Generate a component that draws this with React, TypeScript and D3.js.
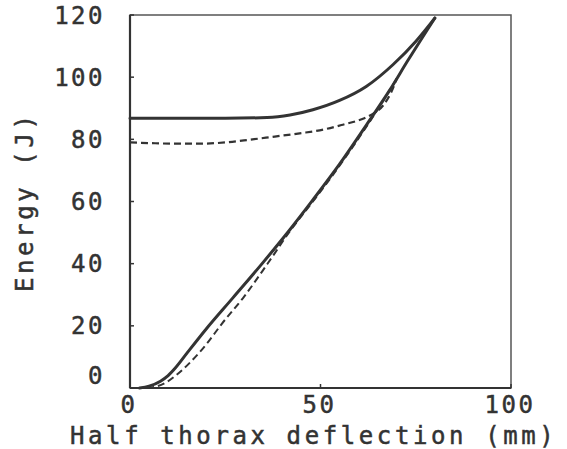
import React from "react";
import * as d3 from "d3";

const xTicks = [0, 50, 100];
const yTicks = [0, 20, 40, 60, 80, 100, 120];

// Solid curve: loading and unloading (x: mm, y: J)
const solidLoad: [number, number][] = [
  [2.5, 0], [5, 0.6], [8, 2.2], [10, 4], [12, 6.6], [15, 11.3], [20, 19],
  [27, 29], [35, 40.5], [42, 51], [48, 60.5], [55, 72], [62, 84.5],
  [68, 95.5], [73, 105.5], [80, 119],
];
const solidUnload: [number, number][] = [
  [0, 86.8], [10, 86.8], [25, 86.8], [36, 87], [42, 87.8], [48, 89.5],
  [55, 92.5], [62, 97], [69, 104], [75, 111.5], [80, 119],
];
// Dashed curve: loading and unloading
const dashLoad: [number, number][] = [
  [4.5, 0], [7, 0.5], [9.5, 1.8], [12, 4], [16, 8.5], [20, 14], [24, 20.5],
  [30, 29.5], [36, 39.8], [42, 50.5], [48, 60], [55, 71.5], [62, 84],
  [66, 91.5], [70, 99.5],
];
const dashUnload: [number, number][] = [
  [0, 79], [5, 78.8], [12, 78.6], [18, 78.6], [25, 79], [31, 79.8],
  [38, 80.9], [45, 82], [51, 83.2], [55.5, 84.6], [61.5, 86.8],
  [63.5, 88], [66.5, 91], [68.5, 95], [70, 99.5],
];

const W = 567;
const H = 449;
const x = d3.scaleLinear().domain([0, 100]).range([130, 511]);
const y = d3.scaleLinear().domain([0, 120]).range([388, 15]);

const line = d3
  .line<[number, number]>()
  .x((d) => x(d[0]))
  .y((d) => y(d[1]))
  .curve(d3.curveMonotoneX);

const ink = "#333";
const font = "'DejaVu Sans Mono', 'Liberation Mono', monospace";
const textStyle = { stroke: ink, strokeWidth: 0.5 };

export default function App() {
  return (
    <svg
      width={W}
      height={H}
      style={{ position: "absolute", left: 0, top: 0, background: "#fff" }}
    >
      {/* frame */}
      <rect
        x={x(0)}
        y={y(120)}
        width={x(100) - x(0)}
        height={y(0) - y(120)}
        fill="none"
        stroke="#555"
        strokeWidth={1.5}
      />
      <line x1={x(0)} x2={x(0)} y1={y(0)} y2={y(120)} stroke={ink} strokeWidth={2.2} />
      <line x1={x(0)} x2={x(100)} y1={y(0)} y2={y(0)} stroke={ink} strokeWidth={2} />

      {/* ticks */}
      {yTicks.map((t) => (
        <line key={"yt" + t} x1={x(0)} x2={x(0) + 4} y1={y(t)} y2={y(t)} stroke={ink} strokeWidth={1.5} />
      ))}
      {xTicks.map((t) => (
        <line key={"xt" + t} x1={x(t)} x2={x(t)} y1={y(0)} y2={y(0) - 4} stroke={ink} strokeWidth={1.5} />
      ))}

      {/* y tick labels */}
      {yTicks.map((t) => (
        <text
          key={"yl" + t}
          x={105}
          y={y(t) + (t === 0 ? -13 : 0)}
          dy="0.36em"
          textAnchor="end"
          fontFamily={font}
          fontSize={24}
          letterSpacing={2.5}
          fill={ink}
          style={textStyle}
        >
          {t}
        </text>
      ))}
      {/* x tick labels */}
      {xTicks.map((t) => (
        <text
          key={"xl" + t}
          x={x(t) - 1}
          y={413}
          textAnchor="middle"
          fontFamily={font}
          fontSize={24}
          letterSpacing={2.5}
          fill={ink}
          style={textStyle}
        >
          {t}
        </text>
      ))}

      {/* axis titles */}
      <text
        x={70}
        y={444}
        fontFamily={font}
        fontSize={24}
        letterSpacing={3.6}
        fill={ink}
        style={textStyle}
      >
        Half thorax deflection (mm)
      </text>
      <text
        transform={`translate(33,292) rotate(-90)`}
        fontFamily={font}
        fontSize={24}
        letterSpacing={3.6}
        fill={ink}
        style={textStyle}
      >
        Energy (J)
      </text>

      {/* curves */}
      <path d={line(dashLoad) || ""} fill="none" stroke={ink} strokeWidth={2} strokeDasharray="7 4" />
      <path d={line(dashUnload) || ""} fill="none" stroke={ink} strokeWidth={2.2} strokeDasharray="7 4" />
      <path d={line(solidLoad) || ""} fill="none" stroke={ink} strokeWidth={3} strokeLinecap="round" />
      <path d={line(solidUnload) || ""} fill="none" stroke={ink} strokeWidth={3} strokeLinecap="round" />
    </svg>
  );
}
